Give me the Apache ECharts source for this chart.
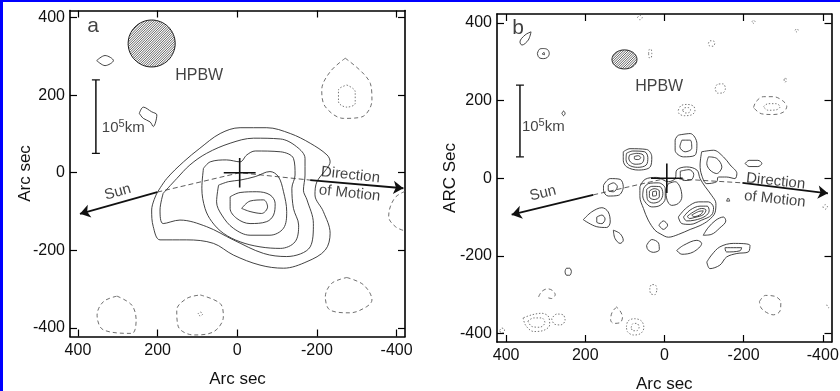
<!DOCTYPE html>
<html>
<head>
<meta charset="utf-8">
<script src="https://cdn.jsdelivr.net/npm/echarts@6/dist/echarts.min.js"></script>
<style>
html,body{margin:0;padding:0;background:#fff;}
#chart{width:840px;height:391px;}
</style>
</head>
<body>
<div id="chart"></div>
<script>
// Tick positions (arc sec) shared by both maps
const ticks = [-400, -200, 0, 200, 400];

// ---------- Map a: contours in arc sec ----------
const aPositive = [
  [[202,-53],[177,-15],[135,28],[94,63],[43,101],[-7,116],[-74,116],[-133,101],[-183,76],[-225,46],[-233,28],[-225,11],[-200,-23],[-195,-57],[-216,-100],[-233,-156],[-221,-199],[-175,-229],[-116,-246],[-57,-238],[10,-212],[60,-182],[127,-173],[194,-173],[211,-139],[215,-96],[202,-53]],
  [[186,-53],[152,-15],[119,20],[77,50],[18,76],[-41,89],[-108,87],[-149,67],[-170,37],[-170,-6],[-166,-45],[-175,-70],[-191,-131],[-183,-191],[-124,-216],[-66,-208],[10,-173],[77,-139],[144,-122],[186,-131],[194,-96],[186,-53]],
  [[85,11],[68,28],[27,33],[-7,28],[-24,46],[-45,56],[-108,54],[-141,37],[-145,-6],[-137,-40],[-141,-92],[-154,-135],[-145,-178],[-108,-195],[-57,-191],[-7,-178],[35,-156],[64,-126],[81,-92],[89,-40],[85,11]],
  [[47,-32],[22,-23],[-7,-19],[-45,-10],[-82,3],[-103,-10],[-116,-49],[-124,-100],[-116,-143],[-82,-161],[-32,-161],[10,-143],[39,-109],[52,-75],[47,-32]],
  [[18,-62],[-7,-51],[-49,-49],[-82,-57],[-95,-79],[-91,-109],[-74,-126],[-32,-131],[1,-118],[18,-92],[18,-62]],
  [[-11,-92],[-32,-73],[-66,-70],[-76,-88],[-61,-105],[-32,-100],[-11,-92]],
  [[353,289],[332,302],[311,289],[332,276],[353,289]],
  [[246,153],[236,169],[215,157],[202,149],[211,119],[219,131],[236,140],[246,153]]
];
const aDashed = [
  [[-271,295],[-334,230],[-338,187],[-313,144],[-267,140],[-221,170],[-212,213],[-233,260],[-271,295]],
  [[302,-318],[265,-341],[254,-380],[265,-414],[336,-405],[352,-367],[336,-332],[302,-318]],
  [[93,-315],[43,-337],[35,-371],[60,-410],[110,-418],[148,-397],[152,-354],[127,-324],[93,-315]],
  [[-275,-270],[-317,-289],[-338,-328],[-325,-345],[-283,-361],[-233,-354],[-221,-320],[-237,-285],[-275,-270]],
  [[-421,-48],[-398,-62],[-384,-88],[-380,-113],[-397,-139],[-421,-150]]
];
const aDotted = [
  [[-275,226],[-296,209],[-296,179],[-275,169],[-254,183],[-254,213],[-275,226]],
  [[99,-364],[93,-359],[87,-364],[93,-369],[99,-364]]
];

// ---------- Map b: contours in arc sec ----------
const bPositive = [
  [[104,68],[87,76],[45,74],[32,55],[36,29],[66,21],[95,29],[104,46],[104,68]],
  [[96,64],[80,70],[50,68],[42,53],[46,34],[68,28],[90,34],[97,48],[96,64]],
  [[88,60],[70,64],[54,60],[52,50],[58,38],[74,36],[86,42],[90,52],[88,60]],
  [[76,56],[66,58],[60,53],[66,48],[76,50],[76,56]],
  [[-35,111],[-65,115],[-82,89],[-77,59],[-48,55],[-27,72],[-27,98],[-35,111]],
  [[-44,98],[-65,98],[-69,77],[-52,68],[-39,81],[-44,98]],
  [[-94,68],[-124,72],[-149,55],[-166,34],[-183,12],[-178,-1],[-157,3],[-136,3],[-132,-9],[-107,-14],[-94,8],[-90,34],[-94,68]],
  [[-111,55],[-132,51],[-145,29],[-132,12],[-115,21],[-107,38],[-111,55]],
  [[-204,38],[-214,46],[-236,46],[-246,38],[-236,30],[-214,30],[-204,38]],
  [[154,-18],[137,-1],[112,-3],[104,-22],[116,-44],[142,-46],[154,-31],[154,-18]],
  [[142,-18],[129,-12],[119,-22],[129,-35],[142,-31],[142,-18]],
  [[205,-107],[184,-87],[158,-76],[142,-87],[137,-113],[146,-127],[171,-125],[205,-107]],
  [[171,-100],[158,-95],[150,-105],[158,-117],[171,-113],[171,-100]],
  [[129,-134],[112,-143],[104,-160],[112,-168],[125,-155],[129,-134]],
  [[62,-22],[49,-3],[20,2],[-10,-9],[-27,-1],[-31,21],[-56,29],[-82,21],[-90,-1],[-103,-22],[-119,-44],[-130,-65],[-128,-88],[-112,-108],[-90,-122],[-65,-132],[-35,-145],[-10,-152],[11,-143],[24,-134],[41,-108],[53,-78],[62,-48],[62,-22]],
  [[-40,18],[-62,22],[-74,10],[-68,-4],[-50,-6],[-40,4],[-40,18]],
  [[53,-27],[41,-14],[15,-12],[-2,-27],[-2,-52],[11,-70],[32,-74],[49,-61],[55,-44],[53,-27]],
  [[45,-29],[32,-21],[11,-22],[4,-40],[11,-58],[28,-64],[43,-55],[45,-29]],
  [[38,-33],[26,-27],[13,-33],[13,-48],[26,-55],[38,-48],[38,-33]],
  [[30,-35],[21,-33],[20,-44],[30,-46],[30,-35]],
  [[-10,-14],[-27,-9],[-39,-22],[-44,-48],[-35,-65],[-18,-70],[-7,-57],[-4,-31],[-10,-14]],
  [[-35,-100],[-56,-76],[-86,-61],[-111,-61],[-124,-76],[-119,-95],[-94,-108],[-65,-119],[-44,-117],[-35,-100]],
  [[-48,-100],[-65,-82],[-90,-72],[-108,-72],[-113,-84],[-103,-98],[-77,-108],[-56,-110],[-48,-100]],
  [[-58,-98],[-73,-87],[-94,-78],[-105,-82],[-98,-94],[-77,-101],[-63,-104],[-58,-98]],
  [[-69,-95],[-86,-86],[-98,-84],[-92,-93],[-75,-99],[-69,-95]],
  [[14,-121],[3,-110],[-8,-121],[3,-132],[14,-121]],
  [[45,-173],[32,-158],[15,-167],[13,-184],[28,-191],[42,-184],[45,-173]],
  [[-98,-147],[-110,-128],[-130,-108],[-149,-100],[-155,-110],[-140,-128],[-118,-145],[-98,-147]],
  [[-31,-186],[-48,-173],[-82,-160],[-94,-168],[-73,-190],[-44,-196],[-31,-186]],
  [[-107,-216],[-119,-198],[-140,-177],[-174,-168],[-216,-173],[-212,-190],[-183,-194],[-157,-203],[-140,-224],[-115,-233],[-107,-216]],
  [[-153,-179],[-195,-179],[-191,-187],[-157,-190],[-153,-179]],
  [[337,377],[344,356],[360,343],[365,351],[352,369],[337,377]],
  [[321,321],[316,332],[306,334],[295,331],[291,321],[296,311],[306,308],[317,311],[321,321]],
  [[309,320],[304,324],[303,318],[309,320]],
  [[259,167],[255,173],[251,167],[255,161],[259,167]],
  [[235,-241],[239,-232],[247,-232],[251,-241],[247,-250],[239,-250],[235,-241]],
  [[-157,-59],[-161,-51],[-165,-59],[-157,-59]]
];
const bDashed = [
  [[318,-306],[310,-292],[295,-285],[282,-290],[276,-300],[285,-310],[300,-306]],
  [[121,-332],[132,-345],[136,-365],[128,-374],[112,-372],[106,-358],[112,-342],[121,-332]],
  [[-240,-318],[-255,-302],[-278,-304],[-294,-320],[-292,-342],[-275,-352],[-258,-346],[-244,-334],[-240,-318]],
  [[-225,182],[-232,198],[-250,210],[-275,210],[-298,200],[-309,185],[-300,170],[-275,164],[-245,166],[-225,182]]
];
const bDotted = [
  [[68,414],[62,420],[56,414],[62,408],[68,414]],
  [[-111,347],[-115,354],[-123,354],[-127,347],[-123,340],[-115,340],[-111,347]],
  [[40,321],[38,332],[34,332],[32,321],[34,310],[38,310],[40,321]],
  [[-221,403],[-225,407],[-229,403],[-225,399],[-221,403]],
  [[-330,381],[-334,385],[-338,381],[-334,377],[-330,381]],
  [[-302,253],[-305,259],[-308,253],[-305,247],[-302,253]],
  [[-128,231],[-134,242],[-148,243],[-154,231],[-148,220],[-134,219],[-128,231]],
  [[-35,175],[-42,187],[-58,190],[-74,185],[-77,173],[-68,163],[-50,161],[-37,166],[-35,175]],
  [[-46,175],[-50,181],[-60,182],[-66,176],[-62,169],[-52,168],[-46,175]],
  [[-250,184],[-262,192],[-282,192],[-292,184],[-282,176],[-262,175],[-250,184]],
  [[19,-287],[22,-276],[32,-274],[37,-285],[34,-298],[24,-300],[19,-287]],
  [[357,-360],[350,-380],[330,-395],[305,-392],[290,-378],[292,-358],[310,-348],[335,-352],[357,-360]],
  [[345,-368],[335,-382],[315,-384],[302,-372],[310,-360],[330,-360],[345,-368]],
  [[285,-362],[278,-376],[262,-378],[251,-366],[256,-352],[272,-350],[285,-362]],
  [[96,-383],[92,-368],[76,-362],[58,-368],[52,-385],[60,-400],[78,-404],[93,-396],[96,-383]],
  [[84,-385],[80,-375],[70,-374],[64,-384],[70,-393],[80,-393],[84,-385]],
  [[-400,-74],[-406,-80],[-412,-74],[-406,-68],[-400,-74]],
  [[-410,-326],[-414,-334],[-418,-328]],
  [[416,-392],[411,-386],[404,-390],[406,-398],[413,-398],[416,-392]]
];

// ---------- Annotations (arc sec) ----------
const nucleusA = [-6, 0];
const nucleusB = [-6, 0];
const armX = 40, armY = 38;
const scaleBarA = { x: 355, top: 239, bottom: 50, cap: 10 };
const scaleBarB = { x: 365, top: 240, bottom: 55, cap: 10 };
const sunArrowA = [[201, -50], [395, -106]];
const sunArrowB = [[180, -43], [386, -94]];
const pathA = [[201, -50], [-6, 0], [-183, -19]];
const pathB = [[180, -43], [-6, 0], [-197, -12]];
const motionArrowA = [[-183, -19], [-417, -40]];
const motionArrowB = [[-197, -12], [-413, -39]];
// beam centre and full widths (arc sec)
const beamA = [215, 333, 118, 121];
const beamB = [101, 306, 63, 49];

const FONT = '"Liberation Sans", Arial, Helvetica, sans-serif';

function contourSeries(list, xi, yi, kind) {
  const styles = {
    solid: { color: '#2e2e2e', width: 0.9, type: 'solid' },
    dashed: { color: '#555', width: 0.85, type: [4, 3] },
    dotted: { color: '#666', width: 0.9, type: [1.4, 1.8] }
  };
  return list.map(pts => ({
    type: 'line', xAxisIndex: xi, yAxisIndex: yi,
    data: pts, showSymbol: false, symbol: 'none', smooth: 0.35,
    silent: true, clip: true,
    lineStyle: styles[kind], z: 3
  }));
}

function segment(p, q, xi, yi, width) {
  return {
    type: 'line', xAxisIndex: xi, yAxisIndex: yi, data: [p, q],
    symbol: 'none', silent: true, lineStyle: { color: '#111', width: width }, z: 5
  };
}

// Hatched beam ellipse: outline plus diagonal hatch lines clipped to the ellipse
function renderBeam(params, api) {
  const c = api.coord([api.value(0), api.value(1)]);
  const sz = api.size([api.value(2), api.value(3)]);
  const rx = sz[0] / 2, ry = sz[1] / 2;
  const children = [];
  const outline = [];
  for (let i = 0; i < 64; i++) {
    const t = i / 64 * Math.PI * 2;
    outline.push([c[0] + rx * Math.cos(t), c[1] + ry * Math.sin(t)]);
  }
  children.push({ type: 'polygon', shape: { points: outline }, style: { fill: '#fff', stroke: 'none' } });
  const step = 2.4;
  const kmax = Math.sqrt(rx * rx + ry * ry);
  for (let k = -kmax + step / 2; k < kmax; k += step) {
    const A = 1 / (rx * rx) + 1 / (ry * ry);
    const B = -2 * k / (ry * ry);
    const C = k * k / (ry * ry) - 1;
    const D = B * B - 4 * A * C;
    if (D <= 0) continue;
    const u1 = (-B - Math.sqrt(D)) / (2 * A), u2 = (-B + Math.sqrt(D)) / (2 * A);
    children.push({
      type: 'line',
      shape: { x1: c[0] + u1, y1: c[1] + k - u1, x2: c[0] + u2, y2: c[1] + k - u2 },
      style: { stroke: '#3a3a3a', lineWidth: 0.8 }
    });
  }
  children.push({ type: 'polygon', shape: { points: outline }, style: { fill: 'none', stroke: '#1a1a1a', lineWidth: 1 } });
  return { type: 'group', children: children };
}

function annotations(xi, yi, nucleus, bar, sun, path, motion, beam) {
  const s = [];
  s.push(segment([nucleus[0] + armX, nucleus[1]], [nucleus[0] - armX, nucleus[1]], xi, yi, 1.6));
  s.push(segment([nucleus[0], nucleus[1] + armY], [nucleus[0], nucleus[1] - armY], xi, yi, 1.6));
  s.push(segment([bar.x, bar.top], [bar.x, bar.bottom], xi, yi, 1.5));
  s.push(segment([bar.x - bar.cap, bar.top], [bar.x + bar.cap, bar.top], xi, yi, 1.3));
  s.push(segment([bar.x - bar.cap, bar.bottom], [bar.x + bar.cap, bar.bottom], xi, yi, 1.3));
  s.push({
    type: 'line', xAxisIndex: xi, yAxisIndex: yi, data: path, symbol: 'none', silent: true,
    lineStyle: { color: '#333', width: 0.8, type: [5, 3] }, z: 4,
    markLine: {
      silent: true, animation: false, symbol: ['none', 'arrow'], symbolSize: 10,
      label: { show: false },
      lineStyle: { color: '#111', width: 1.8, type: 'solid' },
      data: [
        [{ coord: sun[0] }, { coord: sun[1] }],
        [{ coord: motion[0] }, { coord: motion[1] }]
      ]
    }
  });
  s.push({
    type: 'custom', xAxisIndex: xi, yAxisIndex: yi, silent: true, z: 5,
    renderItem: renderBeam, data: [beam]
  });
  return s;
}

function textSeries(xi, yi, items) {
  return {
    type: 'scatter', xAxisIndex: xi, yAxisIndex: yi, silent: true, symbolSize: 0, z: 6,
    data: items.map(t => ({
      value: t.at,
      label: Object.assign({
        show: true, position: 'inside', color: '#111', fontFamily: FONT,
        fontSize: 15, formatter: t.text
      }, t.style || {})
    }))
  };
}

const kmRich = {
  n: { fontSize: 15, fontFamily: FONT, color: '#111' },
  s: { fontSize: 11, fontFamily: FONT, color: '#111', padding: [0, 0, 8, 0] }
};

const textA = [
  { at: [362, 378], text: 'a', style: { fontSize: 21 } },
  { at: [156, 249], text: 'HPBW', style: { fontSize: 16, align: 'left' } },
  { at: [340, 115], text: '{n|10}{s|5}{n|km}', style: { align: 'left', rich: kmRich } },
  { at: [300, -50], text: 'Sun', style: { rotate: 16 } },
  { at: [-284, -6], text: 'Direction', style: { rotate: -6 } },
  { at: [-282, -53], text: 'of Motion', style: { rotate: -6 } }
];
const textB = [
  { at: [370, 387], text: 'b', style: { fontSize: 21 } },
  { at: [74, 235], text: 'HPBW', style: { fontSize: 16, align: 'left' } },
  { at: [360, 131], text: '{n|10}{s|5}{n|km}', style: { align: 'left', rich: kmRich } },
  { at: [307, -39], text: 'Sun', style: { rotate: 14 } },
  { at: [-281, -8], text: 'Direction', style: { rotate: -6 } },
  { at: [-279, -54], text: 'of Motion', style: { rotate: -6 } }
];

function xAxes(gridIndex, lo, hi, gap) {
  const common = {
    type: 'value', gridIndex: gridIndex, min: lo, max: hi, inverse: true,
    splitLine: { show: false },
    axisLine: { show: true, onZero: false, lineStyle: { color: '#000', width: 1.6 } },
    axisTick: { show: true, inside: true, length: 7, customValues: ticks, lineStyle: { color: '#000', width: 1.2 } }
  };
  return [
    Object.assign({}, common, {
      position: 'bottom', name: 'Arc sec', nameLocation: 'middle', nameGap: gap, nameMoveOverlap: false,
      nameTextStyle: { fontSize: 17, fontFamily: FONT, color: '#111' },
      axisLabel: { customValues: ticks, fontSize: 16, fontFamily: FONT, color: '#111', margin: 6 }
    }),
    Object.assign({}, common, { position: 'top', axisLabel: { show: false } })
  ];
}
function yAxes(gridIndex, lo, hi, title, gap) {
  const common = {
    type: 'value', gridIndex: gridIndex, min: lo, max: hi,
    splitLine: { show: false },
    axisLine: { show: true, onZero: false, lineStyle: { color: '#000', width: 1.6 } },
    axisTick: { show: true, inside: true, length: 7, customValues: ticks, lineStyle: { color: '#000', width: 1.2 } }
  };
  return [
    Object.assign({}, common, {
      position: 'left', name: title, nameLocation: 'middle', nameGap: gap, nameMoveOverlap: false,
      nameTextStyle: { fontSize: 17, fontFamily: FONT, color: '#111' },
      axisLabel: { customValues: ticks, fontSize: 16, fontFamily: FONT, color: '#111', margin: 5 }
    }),
    Object.assign({}, common, { position: 'right', axisLabel: { show: false } })
  ];
}

const series = [].concat(
  contourSeries(aPositive, 0, 0, 'solid'),
  contourSeries(aDashed, 0, 0, 'dashed'),
  contourSeries(aDotted, 0, 0, 'dotted'),
  annotations(0, 0, nucleusA, scaleBarA, sunArrowA, pathA, motionArrowA, beamA),
  [textSeries(0, 0, textA)],
  contourSeries(bPositive, 2, 2, 'solid'),
  contourSeries(bDashed, 2, 2, 'dashed'),
  contourSeries(bDotted, 2, 2, 'dotted'),
  annotations(2, 2, nucleusB, scaleBarB, sunArrowB, pathB, motionArrowB, beamB),
  [textSeries(2, 2, textB)]
);

const chart = echarts.init(document.getElementById('chart'), null, { renderer: 'canvas' });
chart.setOption({
  animation: false,
  backgroundColor: '#fff',
  textStyle: { fontFamily: FONT },
  grid: [
    { left: 70, top: 10.5, width: 335, height: 326, containLabel: false, outerBoundsMode: 'none' },
    { left: 497, top: 14, width: 334.5, height: 328, containLabel: false, outerBoundsMode: 'none' }
  ],
  xAxis: [].concat(xAxes(0, -421, 420, 34), xAxes(1, -422, 423, 34)),
  yAxis: [].concat(yAxes(0, -422, 418, 'Arc sec', 36), yAxes(1, -422, 423, 'ARC Sec', 38)),
  graphic: [
    { type: 'rect', left: 0, top: 0, shape: { width: 3, height: 391 }, style: { fill: '#0000ff' }, z: 100 },
    { type: 'rect', left: 0, top: 0, shape: { width: 840, height: 2 }, style: { fill: '#0000ff' }, z: 100 }
  ],
  series: series
});
</script>
</body>
</html>
